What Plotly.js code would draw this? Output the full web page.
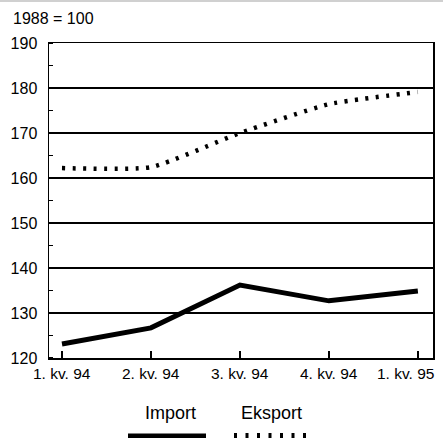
<!DOCTYPE html>
<html><head><meta charset="utf-8">
<script src="https://cdn.plot.ly/plotly-3.0.1.min.js"></script>
<style>html,body{margin:0;padding:0;background:#fff;}#c{width:443px;height:438px;}</style>
</head><body><div id="c"></div>
<script>
const categories = ["1. kv. 94", "2. kv. 94", "3. kv. 94", "4. kv. 94", "1. kv. 95"];
const importValues = [123.1, 126.7, 136.2, 132.7, 134.9];
const eksportValues = [162.2, 162.4, 170.0, 176.4, 179.1];
const yTickValues = [120, 130, 140, 150, 160, 170, 180, 190];

const FONT = "'Liberation Sans', Arial, sans-serif";
const idx = categories.map((c, i) => i);
const last = categories.length - 1;

const data = [
  {x: idx, y: importValues, type: 'scatter', mode: 'lines', name: 'Import',
   line: {color: '#000', width: 5}, showlegend: false},
  {x: idx, y: eksportValues, type: 'scatter', mode: 'lines', name: 'Eksport',
   line: {color: '#000', width: 4.5, dash: '3px,7.5px', shape: 'spline', smoothing: 0.5}, showlegend: false}
];

const py = v => (358 - v) / 315;
const px = v => (v - 49) / 384;

// category labels drawn as annotations on the x scale so the last one can stay inside the window
const catLabels = categories.map((c, i) => ({
  text: c, xref: 'x', yref: 'paper', x: idx[i], y: 0, yshift: -5,
  xanchor: i === last ? 'right' : 'center', xshift: i === last ? 18 : 0,
  yanchor: 'top', showarrow: false, font: {family: FONT, size: 15.5}
}));

const layout = {
  width: 443, height: 438,
  margin: {l: 49, r: 10, t: 43, b: 80},
  paper_bgcolor: '#fff', plot_bgcolor: '#fff',
  font: {family: FONT, size: 15.5, color: '#000'},
  xaxis: {
    range: [-0.146, 4.17], tickvals: idx, showticklabels: false,
    ticks: 'inside', ticklen: 7, tickwidth: 1.5, tickcolor: '#000',
    showgrid: false, zeroline: false,
    showline: true, linecolor: '#000', linewidth: 1.5, mirror: true
  },
  yaxis: {
    range: [120, 190], tickvals: yTickValues,
    ticks: '', showgrid: true, gridcolor: '#000', gridwidth: 1.5,
    zeroline: false, showline: true, linecolor: '#000', linewidth: 1.5, mirror: true,
    minor: {dtick: 5, tick0: 115, ticks: 'inside', ticklen: 4, tickwidth: 1.5, tickcolor: '#000', showgrid: false},
    tickfont: {family: FONT, size: 16}, ticklabelstandoff: 7
  },
  annotations: catLabels.concat([
    {text: '1988 = 100', xref: 'paper', yref: 'paper', x: px(11), y: py(18), xanchor: 'left', yanchor: 'middle',
     showarrow: false, font: {family: FONT, size: 16}},
    {text: 'Import', xref: 'paper', yref: 'paper', x: px(170), y: py(413), xanchor: 'center', yanchor: 'middle',
     showarrow: false, font: {family: FONT, size: 18}},
    {text: 'Eksport', xref: 'paper', yref: 'paper', x: px(271), y: py(413), xanchor: 'center', yanchor: 'middle',
     showarrow: false, font: {family: FONT, size: 18}}
  ]),
  shapes: [
    {type: 'line', xref: 'paper', yref: 'paper', x0: px(-5), x1: px(450), y0: py(1), y1: py(1),
     line: {color: '#d0d0d0', width: 2}},
    {type: 'line', xref: 'paper', yref: 'paper', x0: px(128), x1: px(206), y0: py(436), y1: py(436),
     line: {color: '#000', width: 5}},
    {type: 'line', xref: 'paper', yref: 'paper', x0: px(234), x1: px(312), y0: py(436), y1: py(436),
     line: {color: '#000', width: 6, dash: '3px,8.5px'}}
  ]
};

Plotly.newPlot('c', data, layout, {staticPlot: true, displayModeBar: false});
</script></body></html>
